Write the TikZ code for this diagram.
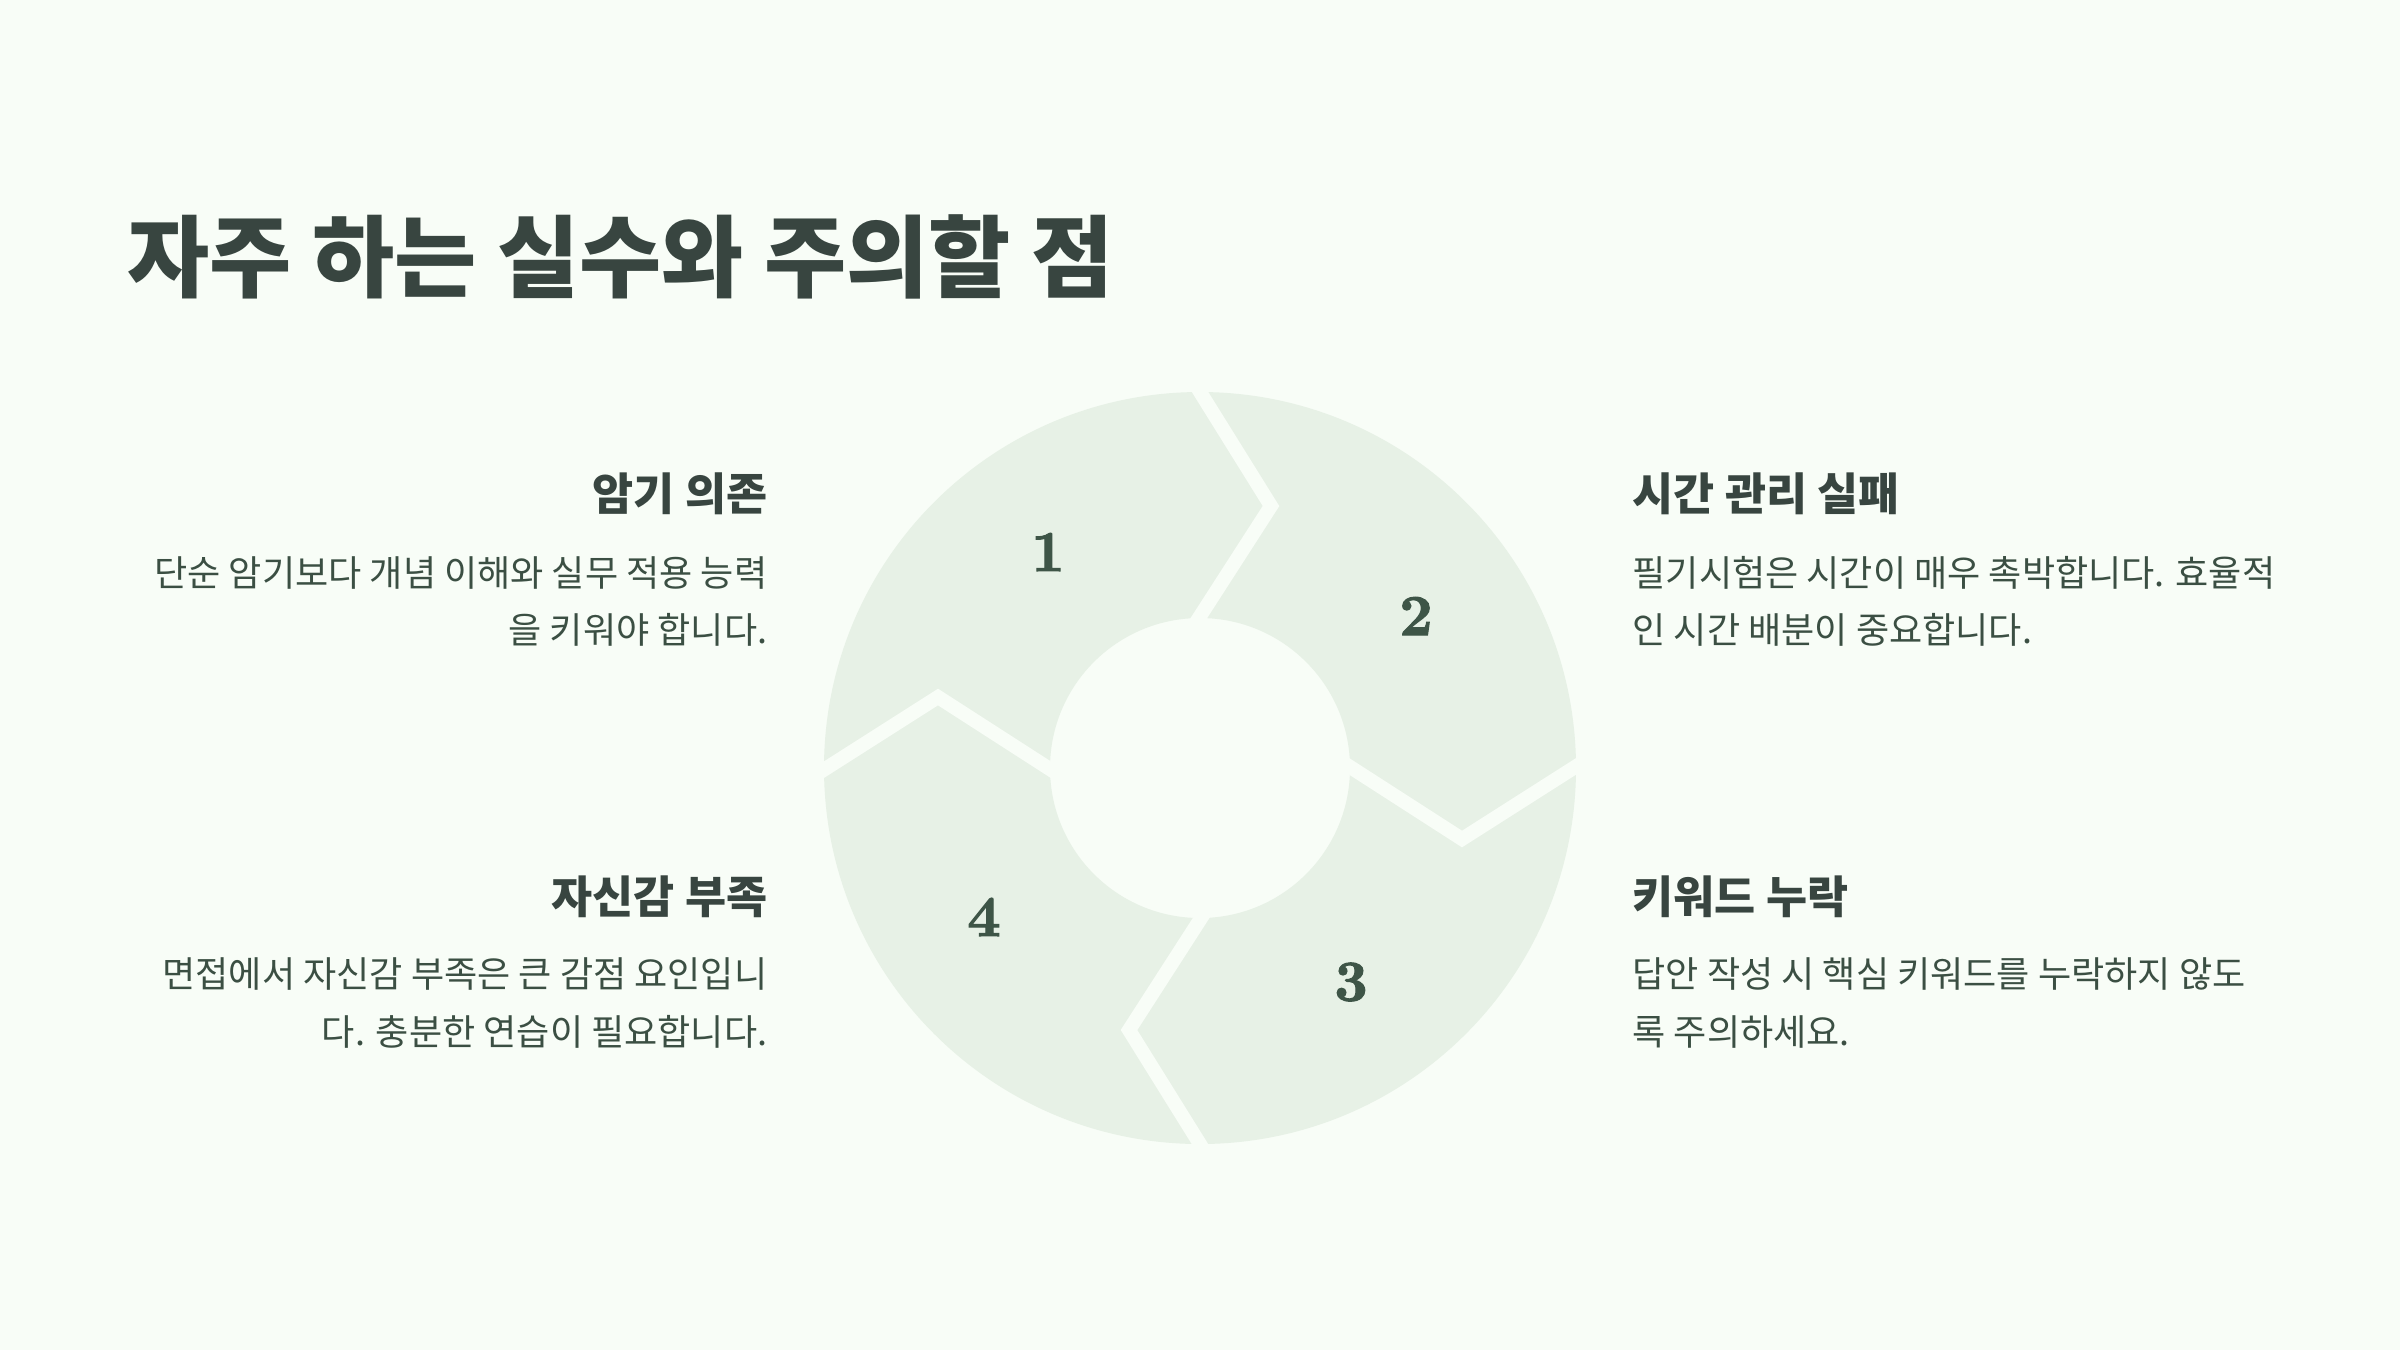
\documentclass[tikz,border=0pt]{standalone}
\usepackage{fontspec}
\newfontfamily\kr{Noto Sans CJK KR}
\newfontfamily\numfont{lmroman10-bold.otf}[FakeBold=1.8]
\definecolor{bgc}{HTML}{F8FDF7}
\definecolor{segc}{HTML}{E7F1E6}
\definecolor{titlec}{HTML}{384540}
\definecolor{textc}{HTML}{3B4F43}
\definecolor{numc}{HTML}{3E5547}
\tikzset{
  divider/.style={draw=bgc, line width=0.14cm, line join=miter},
  titletext/.style={inner sep=0, text=titlec, font=\kr\bfseries\fontsize{25.4pt}{30pt}\selectfont},
  headtext/.style={inner sep=0, text=titlec, font=\kr\bfseries\fontsize{12.7pt}{15pt}\selectfont},
  bodytext/.style={inner sep=0, text=textc, font=\kr\fontsize{10.26pt}{12.5pt}\selectfont},
  numtext/.style={inner sep=0, text=numc, font=\numfont\fontsize{16.5pt}{18pt}\selectfont},
}
\begin{document}
\begin{tikzpicture}[x=0.01cm, y=-0.01cm]
\fill[bgc] (0,0) rectangle (2400,1350);
\useasboundingbox (0,0) rectangle (2400,1350);
% ring
\coordinate (C) at (1200,768);
\fill[segc, even odd rule] (C) circle[radius=376] (C) circle[radius=150];
% chevron dividers (clockwise arrows)
\draw[divider] (1187,371) -- (1271,506) -- (1186,638);
\draw[divider] (1597,753) -- (1462,839) -- (1330,754);
\draw[divider] (1213,1165) -- (1129,1030) -- (1214,898);
\draw[divider] (803,783) -- (938,697) -- (1070,782);
% numbers
\node[numtext] (n1) at (1048,552) {1};
\node[numtext] (n2) at (1416,616) {2};
\node[numtext] (n3) at (1351,982) {3};
\node[numtext] (n4) at (984,917) {4};
% title
\node[titletext, anchor=base west] (title) at (127,290) {자주 하는 실수와 주의할 점};
% top-left
\node[headtext, anchor=base east] (h1) at (768,510) {암기 의존};
\node[bodytext, anchor=base east] (b1a) at (768,586) {단순 암기보다 개념 이해와 실무 적용 능력};
\node[bodytext, anchor=base east] (b1b) at (768,643) {을 키워야 합니다.};
% top-right
\node[headtext, anchor=base west] (h2) at (1632,510) {시간 관리 실패};
\node[bodytext, anchor=base west] (b2a) at (1632,586) {필기시험은 시간이 매우 촉박합니다. 효율적};
\node[bodytext, anchor=base west] (b2b) at (1632,643) {인 시간 배분이 중요합니다.};
% bottom-left
\node[headtext, anchor=base east] (h4) at (768,913) {자신감 부족};
\node[bodytext, anchor=base east] (b4a) at (768,987) {면접에서 자신감 부족은 큰 감점 요인입니};
\node[bodytext, anchor=base east] (b4b) at (768,1045) {다. 충분한 연습이 필요합니다.};
% bottom-right
\node[headtext, anchor=base west] (h3) at (1632,913) {키워드 누락};
\node[bodytext, anchor=base west] (b3a) at (1632,987) {답안 작성 시 핵심 키워드를 누락하지 않도};
\node[bodytext, anchor=base west] (b3b) at (1632,1045) {록 주의하세요.};
\end{tikzpicture}
\end{document}
